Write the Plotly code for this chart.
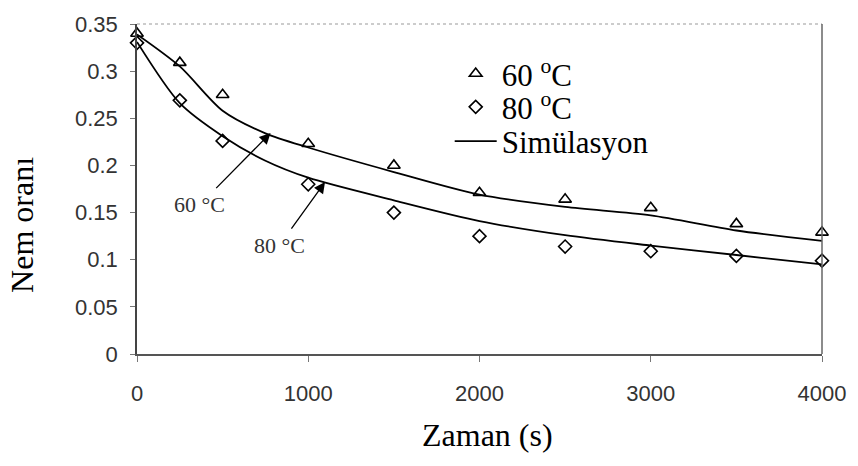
import plotly.graph_objects as go

# ---- data ----
t_exp = [0, 250, 500, 1000, 1500, 2000, 2500, 3000, 3500, 4000]
mr_60_exp = [0.340, 0.309, 0.275, 0.223, 0.200, 0.171, 0.164, 0.155, 0.138, 0.129]
mr_80_exp = [0.330, 0.269, 0.226, 0.180, 0.150, 0.125, 0.114, 0.109, 0.104, 0.099]

t_sim = [0, 250, 500, 750, 1000, 1500, 2000, 2500, 3000, 3500, 4000]
mr_60_sim = [0.339, 0.305, 0.258, 0.234, 0.219, 0.193, 0.169, 0.156, 0.147, 0.131, 0.120]
mr_80_sim = [0.331, 0.266, 0.231, 0.205, 0.187, 0.163, 0.141, 0.126, 0.115, 0.105, 0.095]

x_ticks = [0, 1000, 2000, 3000, 4000]
x_tick_labels = ["0", "1000", "2000", "3000", "4000"]
y_ticks = [0, 0.05, 0.1, 0.15, 0.2, 0.25, 0.3, 0.35]
y_tick_labels = ["0", "0.05", "0.1", "0.15", "0.2", "0.25", "0.3", "0.35"]

SERIF = "Liberation Serif, Times New Roman, serif"
SANS = "Liberation Sans, Arial, sans-serif"

fig = go.Figure()
fig.add_trace(go.Scatter(
    x=t_exp, y=mr_60_exp, mode="markers", name="60 <sup>o</sup>C", legend="legend",
    marker=dict(symbol="triangle-up-open", size=11, color="black", line=dict(width=1.6)),
    cliponaxis=False))
fig.add_trace(go.Scatter(
    x=t_exp, y=mr_80_exp, mode="markers", name="80 <sup>o</sup>C", legend="legend2",
    marker=dict(symbol="diamond-open", size=10, color="black", line=dict(width=1.6)),
    cliponaxis=False))
fig.add_trace(go.Scatter(
    x=t_sim, y=mr_60_sim, mode="lines", name="Simülasyon", legend="legend3",
    line=dict(color="black", width=1.8, shape="spline", smoothing=0.8)))
fig.add_trace(go.Scatter(
    x=t_sim, y=mr_80_sim, mode="lines", name="Simülasyon", showlegend=False,
    line=dict(color="black", width=1.8, shape="spline", smoothing=0.8)))

leg_common = dict(x=0.4565, xanchor="left", yanchor="middle", bgcolor="rgba(0,0,0,0)",
                  font=dict(family=SERIF, size=31, color="black"), itemwidth=42)

fig.update_layout(
    width=858, height=466,
    margin=dict(l=137, r=30, t=17, b=112),
    paper_bgcolor="white", plot_bgcolor="white",
    showlegend=True,
    legend=dict(y=0.849, **leg_common),
    legend2=dict(y=0.748, **leg_common),
    legend3=dict(y=0.644, **leg_common),
    xaxis=dict(range=[0, 4000], tickvals=x_ticks, ticktext=x_tick_labels,
               showgrid=False, zeroline=False, showline=True, linecolor="#555", linewidth=1.5,
               ticks="outside", ticklen=6, tickcolor="#777", tickwidth=1,
               tickfont=dict(family=SANS, size=22, color="#333"), ticklabelstandoff=13,
               ticklabeloverflow="allow"),
    yaxis=dict(range=[0, 0.35], tickvals=y_ticks, ticktext=y_tick_labels,
               showgrid=False, zeroline=False, showline=True, linecolor="#444", linewidth=1.5,
               ticks="outside", ticklen=5, tickcolor="#777", tickwidth=1,
               tickfont=dict(family=SANS, size=22, color="#333"), ticklabelstandoff=8,
               ticklabeloverflow="allow"),
    shapes=[
        dict(type="line", xref="paper", yref="paper", x0=0, x1=1, y0=1, y1=1,
             line=dict(color="#999", width=1.2, dash="dot")),
        dict(type="line", xref="paper", yref="paper", x0=1, x1=1, y0=0, y1=1,
             line=dict(color="#666", width=1.5)),
    ],
    annotations=[
        dict(text="Zaman (s)", xref="paper", yref="paper", x=0.511, y=-0.246,
             showarrow=False, font=dict(family=SERIF, size=32, color="black"),
             xanchor="center", yanchor="middle"),
        dict(text="Nem oranı", xref="paper", yref="paper", x=-0.169, y=0.392,
             showarrow=False, textangle=-90, font=dict(family=SERIF, size=32, color="black"),
             xanchor="center", yanchor="middle"),
        dict(text="60 °C", x=780, y=0.2344, xref="x", yref="y",
             showarrow=True, ax=-71, ay=72, arrowhead=2, arrowsize=1.7, arrowwidth=1.3,
             arrowcolor="black", startstandoff=4,
             font=dict(family=SERIF, size=22, color="#333")),
        dict(text="80 °C", x=1098, y=0.1825, xref="x", yref="y",
             showarrow=True, ax=-46, ay=64, arrowhead=2, arrowsize=1.7, arrowwidth=1.3,
             arrowcolor="black", startstandoff=4,
             font=dict(family=SERIF, size=22, color="#333")),
    ],
)

fig.write_html("out.html", config={"displayModeBar": False},
               post_script="document.body.style.margin='0';")
